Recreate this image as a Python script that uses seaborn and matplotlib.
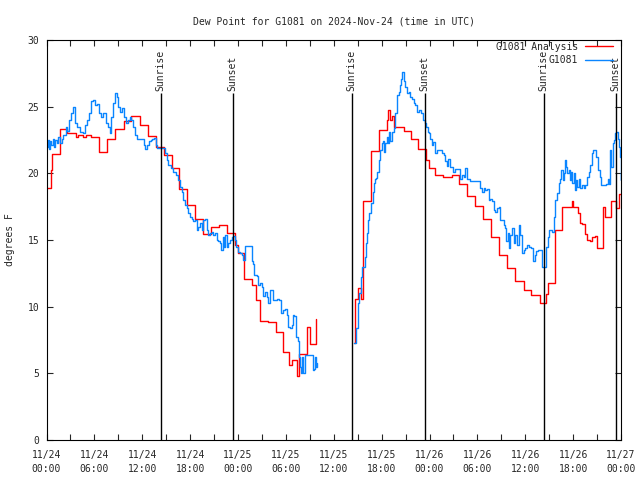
import pandas as pd
import seaborn as sns
import matplotlib.pyplot as plt
from matplotlib.lines import Line2D

# DATA (hours after 2024-11-24 00:00 UTC, dew point in F)
red1_hours = [0.05, 0.6, 0.73, 1.7, 2.6, 3.7, 4.0, 4.6, 4.9, 5.6, 6.6, 7.6, 8.55, 9.7,
              10.55, 11.7, 12.7, 13.7, 14.7, 15.7, 16.65, 17.65, 18.65, 19.65, 20.65,
              21.65, 22.65, 23.65, 24.0, 24.7, 25.7, 26.3, 26.7, 27.7, 28.7, 29.7, 30.45,
              30.8, 31.4, 31.7, 32.7, 33.05, 33.8]
red1_vals = [18.9, 20.25, 21.45, 23.3, 23.05, 22.7, 22.9, 22.75, 22.9, 22.7, 21.6, 22.6,
             23.3, 23.95, 24.3, 23.6, 22.8, 22.0, 21.4, 20.4, 18.8, 17.6, 16.55, 15.45,
             15.95, 16.1, 15.5, 14.6, 14.0, 12.1, 11.6, 10.5, 8.95, 8.85, 8.1, 6.6, 5.6,
             6.0, 4.8, 6.45, 8.45, 7.2, 9.1]

red2_hours = [38.55, 38.65, 39.0, 39.4, 39.7, 40.7, 41.7, 42.65, 42.85, 43.0, 43.3, 43.6,
              44.75, 45.7, 46.6, 47.6, 47.9, 48.7, 49.75, 50.8, 51.7, 52.7, 53.65, 54.7,
              55.7, 56.65, 57.7, 58.75, 59.8, 60.7, 61.8, 62.6, 62.9, 63.7, 64.6, 65.8,
              65.95, 66.6, 66.9, 67.1, 67.5, 67.7, 68.15, 68.35, 68.8, 69.0, 69.8, 70.05,
              70.8, 71.4, 71.8, 72.0]
red2_vals = [7.25, 10.6, 11.4, 10.6, 17.9, 21.7, 23.25, 24.0, 24.75, 24.0, 24.3, 23.5,
             23.2, 22.6, 21.8, 21.0, 20.4, 19.9, 19.7, 19.85, 19.2, 18.3, 17.55, 16.6,
             15.2, 13.9, 12.9, 11.95, 11.25, 10.9, 10.3, 10.95, 11.75, 15.75, 17.5, 17.9,
             17.5, 17.0, 16.25, 16.2, 15.45, 15.0, 14.95, 15.25, 15.3, 14.4, 17.5, 16.75,
             17.9, 17.4, 18.45, 18.45]

blue1_hours = [0.0, 0.15, 0.3, 0.45, 0.6, 0.8, 0.95, 1.1, 1.3, 1.5, 1.7, 1.9, 2.1, 2.4,
               2.6, 2.82, 3.1, 3.36, 3.53, 3.87, 4.2, 4.62, 4.79, 5.04, 5.33, 5.54, 5.87,
               6.04, 6.29, 6.58, 6.79, 7.13, 7.42, 7.71, 7.96, 8.13, 8.38, 8.59, 8.8, 8.97,
               9.22, 9.43, 9.72, 9.97, 10.22, 10.47, 10.64, 10.8, 11.05, 11.3, 11.6, 12.0,
               12.2, 12.35, 12.64, 12.85, 13.06, 13.27, 13.5, 13.7, 13.9, 14.2, 14.5,
               14.86, 15.07, 15.28, 15.57, 15.9, 16.24, 16.53, 16.74, 16.95, 17.16, 17.37,
               17.58, 17.79, 18.0, 18.2, 18.4, 18.62, 18.83, 19.04, 19.25, 19.46, 19.67,
               19.88, 20.08, 20.3, 20.5, 20.71, 20.92, 21.13, 21.34, 21.55, 21.76, 21.88,
               22.09, 22.26, 22.42, 22.6, 22.8, 23.0, 23.2, 23.4, 23.6, 23.8, 24.0, 24.2,
               24.45, 24.66, 24.87, 25.08, 25.52, 25.73, 25.94, 26.02, 26.35, 26.56, 26.77,
               26.98, 27.19, 27.4, 27.6, 27.82, 28.02, 28.23, 28.44, 28.65, 28.86, 29.2,
               29.36, 29.61, 29.9, 30.1, 30.32, 30.53, 30.74, 30.87, 31.08, 31.29, 31.5,
               31.66, 31.79, 31.91, 32.04, 32.2, 32.41, 32.7, 33.04, 33.25, 33.46, 33.58,
               33.71, 33.79, 33.85]
blue1_vals = [22.0, 22.5, 21.8, 22.4, 22.1, 22.6, 22.0, 22.5, 22.3, 22.7, 22.3, 22.6, 22.9,
              23.5, 23.2, 24.0, 24.5, 25.0, 23.75, 23.5, 23.1, 23.0, 23.6, 24.0, 24.5,
              25.4, 25.5, 25.1, 25.2, 24.5, 24.25, 24.5, 23.75, 23.5, 23.0, 24.25, 25.25,
              26.0, 25.75, 25.0, 24.6, 24.9, 24.25, 23.75, 24.0, 24.25, 24.0, 23.5, 22.9,
              22.6, 22.55, 22.6, 22.1, 21.85, 22.1, 22.4, 22.5, 22.6, 22.65, 22.1, 21.9,
              21.9, 21.9, 21.5, 21.0, 20.6, 20.4, 20.1, 19.9, 19.5, 19.0, 18.6, 18.0, 17.6,
              17.4, 17.0, 16.75, 16.6, 16.4, 16.5, 15.75, 16.0, 16.25, 15.75, 16.5, 16.6,
              15.75, 15.4, 15.5, 15.6, 15.4, 15.5, 15.0, 14.9, 14.75, 14.25, 15.25, 14.5,
              15.4, 14.5, 14.75, 15.0, 15.25, 15.3, 15.0, 14.5, 14.1, 14.0, 13.9, 13.5,
              14.55, 14.55, 14.55, 13.4, 13.2, 12.4, 12.3, 11.6, 11.75, 11.5, 10.8, 11.1,
              10.75, 10.25, 11.25, 11.25, 10.5, 10.5, 10.55, 10.5, 9.5, 9.75, 9.8, 9.4,
              8.5, 8.4, 8.6, 9.4, 9.3, 7.75, 7.4, 6.25, 5.5, 5.0, 6.25, 5.0, 6.4, 6.4,
              6.35, 6.4, 5.25, 5.35, 6.25, 5.5, 5.8]

blue2_hours = [38.6, 38.75, 39.02, 39.19, 39.44, 39.6, 39.86, 40.03, 40.15, 40.28, 40.44,
               40.69, 40.86, 40.99, 41.11, 41.28, 41.4, 41.61, 41.82, 42.03, 42.16, 42.28,
               42.45, 42.66, 42.78, 42.95, 43.08, 43.29, 43.5, 43.71, 43.92, 44.13, 44.25,
               44.45, 44.54, 44.75, 44.96, 45.17, 45.38, 45.59, 45.8, 46.0, 46.21, 46.42,
               46.72, 46.97, 47.18, 47.39, 47.6, 47.8, 47.9, 48.1, 48.3, 48.5, 48.71,
               48.92, 49.34, 49.55, 49.76, 49.97, 50.18, 50.38, 50.6, 50.89, 51.22, 51.51,
               51.76, 52.06, 52.27, 52.48, 52.68, 52.89, 53.1, 53.52, 53.94, 54.15, 54.36,
               54.57, 54.78, 54.99, 55.2, 55.4, 55.61, 55.82, 56.03, 56.24, 56.45, 56.66,
               56.86, 57.07, 57.28, 57.49, 57.62, 57.79, 57.91, 58.12, 58.33, 58.54, 58.75,
               58.96, 59.17, 59.38, 59.59, 59.8, 60.0, 60.22, 60.43, 60.72, 60.97, 61.18,
               61.39, 61.56, 61.89, 62.1, 62.4, 62.65, 62.82, 62.99, 63.2, 63.34, 63.55,
               63.76, 63.97, 64.18, 64.39, 64.51, 64.68, 64.8, 64.93, 65.1, 65.22, 65.43,
               65.56, 65.73, 65.85, 66.06, 66.19, 66.35, 66.52, 66.69, 66.9, 67.1, 67.31,
               67.52, 67.73, 67.94, 68.15, 68.36, 68.48, 68.69, 68.9, 69.11, 69.32, 69.53,
               69.74, 69.95, 70.16, 70.36, 70.53, 70.66, 70.78, 70.95, 71.12, 71.29, 71.41,
               71.58, 71.71, 71.83, 71.96, 72.05]
blue2_vals = [7.3, 8.4, 10.25, 11.0, 12.25, 13.0, 13.75, 14.75, 15.5, 16.5, 17.0, 17.75,
              18.6, 19.25, 19.6, 19.65, 20.1, 21.0, 21.75, 22.25, 22.4, 21.6, 22.25, 22.75,
              22.25, 23.1, 22.4, 23.1, 23.4, 24.5, 25.9, 26.1, 26.6, 27.1, 27.6, 26.9,
              26.5, 26.0, 26.1, 25.75, 25.6, 25.25, 25.1, 24.6, 24.75, 24.5, 24.0, 23.75,
              23.5, 23.1, 23.0, 22.6, 22.1, 22.35, 21.5, 21.75, 21.75, 21.5, 21.4, 20.9,
              20.55, 21.05, 20.5, 20.1, 20.35, 20.35, 19.6, 19.85, 19.75, 20.4, 19.6,
              19.55, 19.4, 19.4, 19.45, 19.4, 18.9, 18.6, 18.9, 18.75, 18.8, 18.0, 18.1,
              17.9, 17.25, 17.1, 17.4, 17.5, 16.5, 16.5, 16.1, 15.9, 14.9, 15.5, 14.4,
              15.4, 15.9, 14.75, 15.4, 14.6, 16.1, 15.4, 14.0, 14.25, 14.4, 14.6, 14.5,
              14.4, 13.4, 13.9, 14.15, 14.25, 14.25, 13.0, 13.0, 14.5, 15.2, 15.75, 15.75,
              15.6, 16.75, 18.0, 18.5, 19.25, 19.6, 20.25, 19.5, 20.0, 21.0, 20.5, 20.0,
              20.25, 19.5, 20.1, 19.25, 20.0, 18.75, 19.5, 19.0, 19.6, 18.9, 19.1, 18.9,
              19.1, 19.75, 20.1, 20.6, 21.5, 21.75, 21.75, 21.25, 20.25, 19.75, 19.1, 19.1,
              19.1, 19.2, 19.6, 19.2, 21.75, 20.5, 22.25, 22.5, 23.0, 23.1, 22.6, 22.0,
              21.25, 19.5, 20.0]

sun_names = ["Sunrise", "Sunset", "Sunrise", "Sunset", "Sunrise", "Sunset"]
sun_hours = [14.3, 23.35, 38.25, 47.4, 62.3, 71.35]

xtick_hours = [0, 6, 12, 18, 24, 30, 36, 42, 48, 54, 60, 66, 72]
xtick_labels = ["11/24\n00:00", "11/24\n06:00", "11/24\n12:00", "11/24\n18:00",
                "11/25\n00:00", "11/25\n06:00", "11/25\n12:00", "11/25\n18:00",
                "11/26\n00:00", "11/26\n06:00", "11/26\n12:00", "11/26\n18:00",
                "11/27\n00:00"]

series_names = ["G1081 Analysis", "G1081"]
colors = {"G1081 Analysis": "#ff0000", "G1081": "#0a85ff"}

# BUILD TABLE
frames = []
for name, segs in [("G1081 Analysis", [(red1_hours, red1_vals), (red2_hours, red2_vals)]),
                   ("G1081", [(blue1_hours, blue1_vals), (blue2_hours, blue2_vals)])]:
    for i, (t, v) in enumerate(segs):
        frames.append(pd.DataFrame({"hours": t, "dewpoint": v, "series": name, "seg": i}))
df = pd.concat(frames, ignore_index=True)

# PLOT
sns.set_style("ticks")
plt.rcParams["font.family"] = ["DejaVu Sans Mono"]
plt.rcParams["font.size"] = 7

fig = plt.figure(figsize=(6.4, 4.8), dpi=100)
ax = fig.add_axes([46.5 / 640, 40 / 480, 574.5 / 640, 400 / 480])

sns.lineplot(data=df, x="hours", y="dewpoint", hue="series", hue_order=series_names,
             palette=colors, units="seg", estimator=None, sort=False,
             drawstyle="steps-post", linewidth=1, legend=False, ax=ax)

ax.vlines(sun_hours, 0, 26, color="black", linewidth=1)
for name, h in zip(sun_names, sun_hours):
    ax.text(h, 26.15, name, rotation=90, ha="center", va="bottom", fontsize=7)

ax.set_xlim(0, 72)
ax.set_ylim(0, 30)
ax.set_xticks(xtick_hours)
ax.set_xticklabels(xtick_labels)
for lbl in ax.get_xticklabels():
    lbl.set_linespacing(1.55)
ax.set_xticks([h + 3 for h in xtick_hours[:-1]], minor=True)
ax.set_yticks([0, 5, 10, 15, 20, 25, 30])
ax.tick_params(which="both", direction="in", top=True, right=True, length=4,
               width=0.8, labelsize=7, pad=4)
ax.tick_params(axis="x", pad=7)
ax.tick_params(axis="y", pad=5)
for s in ax.spines.values():
    s.set_linewidth(0.8)
    s.set_color("black")

ax.set_xlabel("")
ax.set_ylabel("degrees F", fontsize=7, labelpad=9)
ax.set_title("Dew Point for G1081 on 2024-Nov-24 (time in UTC)", fontsize=7, pad=11)

handles = [Line2D([], [], color=colors[n], linewidth=1) for n in series_names]
ax.legend(handles, series_names, loc="upper right", bbox_to_anchor=(0.993, 1.005),
          borderaxespad=0, frameon=False, markerfirst=False, handlelength=2.9,
          handletextpad=0.7, labelspacing=0.35, fontsize=7)

fig.savefig("out.png", dpi=100)
